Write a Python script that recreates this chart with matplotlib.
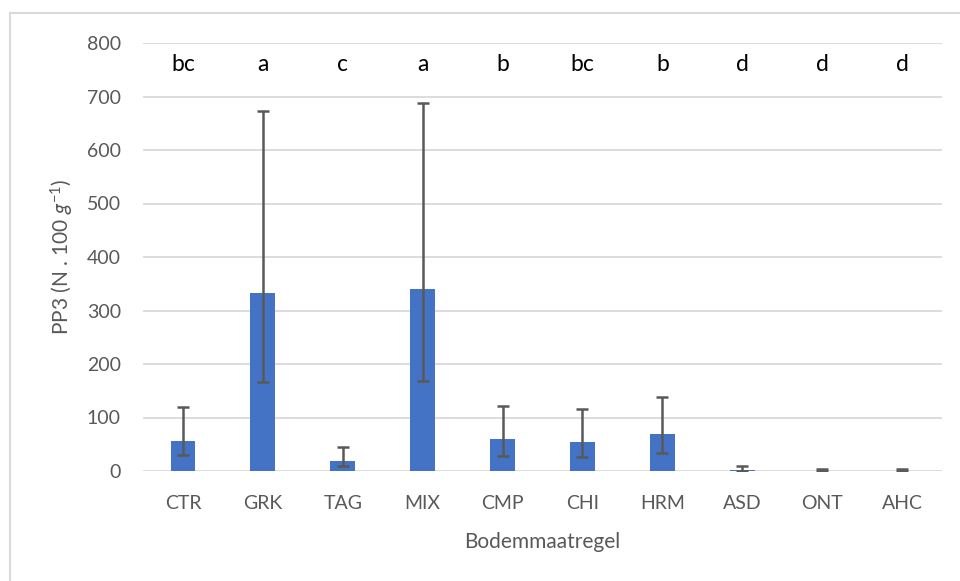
import matplotlib
matplotlib.use("Agg")
import matplotlib.pyplot as plt
from matplotlib.patches import Rectangle

categories = ["CTR", "GRK", "TAG", "MIX", "CMP", "CHI", "HRM", "ASD", "ONT", "AHC"]
means = [57, 332, 18, 340, 59, 55, 69, 1, 0.5, 0.5]
upper = [119, 673, 44, 688, 122, 115, 139, 10, 4, 4]
lower = [29, 166, 9, 168, 28, 26, 33, 0, 0, 0]
letters = ["bc", "a", "c", "a", "b", "bc", "b", "d", "d", "d"]
yticks = [0, 100, 200, 300, 400, 500, 600, 700, 800]

plt.rcParams['font.family'] = ['Lato', 'DejaVu Sans']
plt.rcParams['mathtext.fontset'] = 'custom'
plt.rcParams['mathtext.rm'] = 'Lato'
plt.rcParams['mathtext.it'] = 'Lato:italic'

W, H = 960, 581
fig = plt.figure(figsize=(W / 100, H / 100), dpi=100)
ax = fig.add_axes([143 / W, 1 - 471 / H, (942 - 143) / W, (471 - 43) / H])

x = list(range(len(categories)))
err_lo = [m - l for m, l in zip(means, lower)]
err_hi = [u - m for m, u in zip(means, upper)]
ax.bar(x, means, width=0.31, color="#4472C4", zorder=2)
ax.errorbar(x, means, yerr=[err_lo, err_hi], fmt="none", ecolor="#595959",
            elinewidth=1.8, capsize=4.3, capthick=1.8, zorder=3)

for xi, lt in zip(x, letters):
    ax.text(xi, 760, lt, ha="center", va="center", fontsize=16.5, color="black")

ax.set_xlim(-0.5, len(categories) - 0.5)
ax.set_ylim(0, 800)
ax.set_yticks(yticks)
ax.set_xticks(x)
ax.set_xticklabels(categories)
ax.tick_params(axis="both", length=0, labelsize=14, colors="#595959")
ax.tick_params(axis="y", pad=16)
ax.tick_params(axis="x", pad=17)
ax.grid(axis="y", color="#d9d9d9", linewidth=1.3, zorder=0)
ax.set_axisbelow(True)
for s in ax.spines.values():
    s.set_visible(False)

ax.set_xlabel("Bodemmaatregel", fontsize=15, color="#595959", labelpad=15)
ax.set_ylabel(r"PP3 (N . 100 $g^{-1}$)", fontsize=15, color="#595959", labelpad=8)

fig.patches.append(Rectangle((10 / W, -0.05), 1.1, 1 - 13 / H + 0.05,
                             transform=fig.transFigure, fill=False,
                             edgecolor="#d9d9d9", linewidth=1.5))

fig.savefig("out.png", dpi=100)
